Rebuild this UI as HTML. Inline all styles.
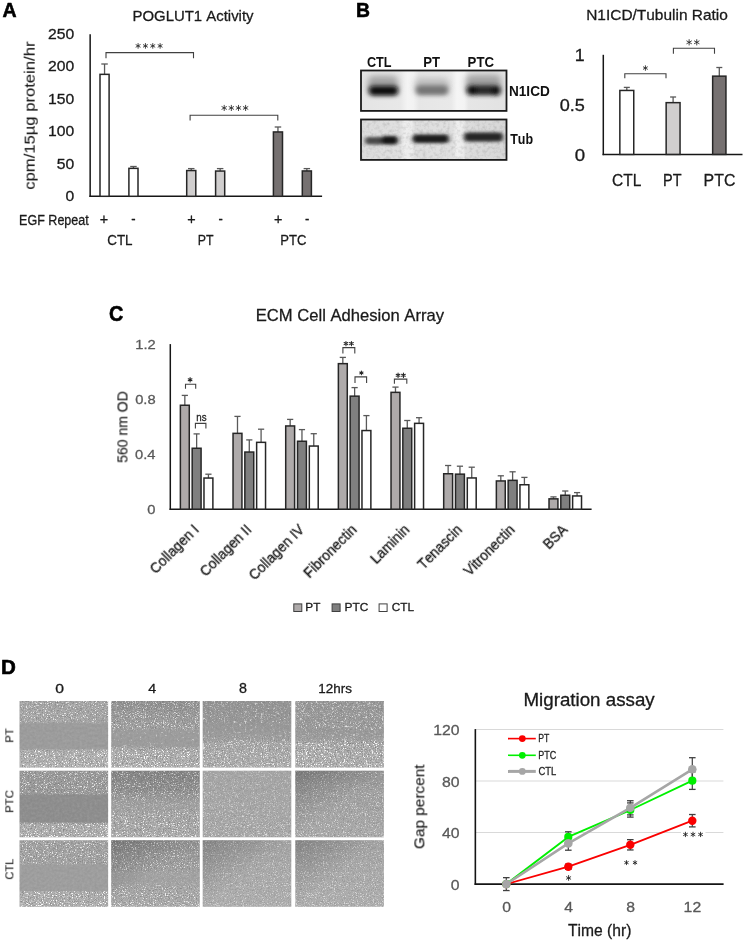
<!DOCTYPE html>
<html><head><meta charset="utf-8"><style>
html,body{margin:0;padding:0;background:#fff;}
svg{display:block;}
text{filter:url(#gs);}
text{font-family:"Liberation Sans", sans-serif;font-kerning:none;}
</style></head><body>
<svg width="744" height="941" viewBox="0 0 744 941">
<defs><filter id="gs" x="-5%" y="-20%" width="110%" height="140%"><feOffset dx="0" dy="0"/></filter></defs>
<rect width="744" height="941" fill="#fff"/>
<text x="2.51" y="16.60" font-size="20.06" font-weight="bold" fill="#000" textLength="14.10" lengthAdjust="spacingAndGlyphs" stroke="#000" stroke-width="0.6" stroke-linejoin="round">A</text>
<text x="132.48" y="21.00" font-size="15.26" fill="#1a1a1a" textLength="121.05" lengthAdjust="spacingAndGlyphs" stroke="#1a1a1a" stroke-width="0.3" stroke-linejoin="round">POGLUT1 Activity</text>
<line x1="90.15" y1="34.30" x2="90.15" y2="197.05" stroke="#161616" stroke-width="1.5"/>
<line x1="89.40" y1="196.30" x2="322.10" y2="196.30" stroke="#161616" stroke-width="1.5"/>
<text x="65.48" y="201.41" font-size="14.27" fill="#1a1a1a" textLength="8.73" lengthAdjust="spacingAndGlyphs" stroke="#1a1a1a" stroke-width="0.3" stroke-linejoin="round">0</text>
<text x="56.74" y="168.88" font-size="14.27" fill="#1a1a1a" textLength="17.47" lengthAdjust="spacingAndGlyphs" stroke="#1a1a1a" stroke-width="0.3" stroke-linejoin="round">50</text>
<text x="48.01" y="136.35" font-size="14.27" fill="#1a1a1a" textLength="26.20" lengthAdjust="spacingAndGlyphs" stroke="#1a1a1a" stroke-width="0.3" stroke-linejoin="round">100</text>
<text x="48.01" y="103.82" font-size="14.27" fill="#1a1a1a" textLength="26.20" lengthAdjust="spacingAndGlyphs" stroke="#1a1a1a" stroke-width="0.3" stroke-linejoin="round">150</text>
<text x="48.01" y="71.29" font-size="14.27" fill="#1a1a1a" textLength="26.20" lengthAdjust="spacingAndGlyphs" stroke="#1a1a1a" stroke-width="0.3" stroke-linejoin="round">200</text>
<text x="48.01" y="38.76" font-size="14.27" fill="#1a1a1a" textLength="26.20" lengthAdjust="spacingAndGlyphs" stroke="#1a1a1a" stroke-width="0.3" stroke-linejoin="round">250</text>
<g transform="translate(23.66,188.94) rotate(-90)"><text x="-0.71" y="11.18" font-size="15.43" fill="#1a1a1a" textLength="148.16" lengthAdjust="spacingAndGlyphs" stroke="#1a1a1a" stroke-width="0.12" stroke-linejoin="round">cpm/15µg protein/hr</text></g>
<line x1="104.55" y1="75.60" x2="104.55" y2="64.00" stroke="#595959" stroke-width="1.3"/>
<line x1="101.30" y1="64.00" x2="107.80" y2="64.00" stroke="#595959" stroke-width="1.3"/>
<rect x="100.00" y="74.35" width="9.10" height="121.95" fill="#ffffff" stroke="#262626" stroke-width="1.5"/>
<line x1="133.45" y1="169.60" x2="133.45" y2="166.50" stroke="#595959" stroke-width="1.3"/>
<line x1="130.20" y1="166.50" x2="136.70" y2="166.50" stroke="#595959" stroke-width="1.3"/>
<rect x="128.90" y="168.35" width="9.10" height="27.95" fill="#ffffff" stroke="#262626" stroke-width="1.5"/>
<line x1="191.25" y1="171.80" x2="191.25" y2="168.60" stroke="#595959" stroke-width="1.3"/>
<line x1="188.00" y1="168.60" x2="194.50" y2="168.60" stroke="#595959" stroke-width="1.3"/>
<rect x="186.70" y="170.55" width="9.10" height="25.75" fill="#D0CECE" stroke="#262626" stroke-width="1.5"/>
<line x1="220.15" y1="172.30" x2="220.15" y2="168.60" stroke="#595959" stroke-width="1.3"/>
<line x1="216.90" y1="168.60" x2="223.40" y2="168.60" stroke="#595959" stroke-width="1.3"/>
<rect x="215.60" y="171.05" width="9.10" height="25.25" fill="#D0CECE" stroke="#262626" stroke-width="1.5"/>
<line x1="277.95" y1="133.20" x2="277.95" y2="127.00" stroke="#595959" stroke-width="1.3"/>
<line x1="274.70" y1="127.00" x2="281.20" y2="127.00" stroke="#595959" stroke-width="1.3"/>
<rect x="273.40" y="131.95" width="9.10" height="64.35" fill="#767171" stroke="#262626" stroke-width="1.5"/>
<line x1="306.85" y1="172.20" x2="306.85" y2="168.60" stroke="#595959" stroke-width="1.3"/>
<line x1="303.60" y1="168.60" x2="310.10" y2="168.60" stroke="#595959" stroke-width="1.3"/>
<rect x="302.30" y="170.95" width="9.10" height="25.35" fill="#767171" stroke="#262626" stroke-width="1.5"/>
<polyline points="106.00,58.20 106.00,52.60 193.50,52.60 193.50,58.20" fill="none" stroke="#404040" stroke-width="1.1"/>
<path d="M138.08,43.50V48.30M136.00,44.70L140.16,47.10M136.00,47.10L140.16,44.70M145.43,43.50V48.30M143.35,44.70L147.50,47.10M143.35,47.10L147.50,44.70M152.77,43.50V48.30M150.70,44.70L154.85,47.10M150.70,47.10L154.85,44.70M160.12,43.50V48.30M158.04,44.70L162.20,47.10M158.04,47.10L162.20,44.70" stroke="#262626" stroke-width="0.85" stroke-linecap="round" fill="none"/>
<polyline points="190.10,120.60 190.10,115.30 277.80,115.30 277.80,120.60" fill="none" stroke="#404040" stroke-width="1.1"/>
<path d="M224.19,105.30V110.60M221.90,106.62L226.49,109.27M221.90,109.27L226.49,106.62M231.33,105.30V110.60M229.04,106.62L233.63,109.27M229.04,109.27L233.63,106.62M238.47,105.30V110.60M236.17,106.62L240.76,109.27M236.17,109.27L240.76,106.62M245.61,105.30V110.60M243.31,106.62L247.90,109.27M243.31,109.27L247.90,106.62" stroke="#262626" stroke-width="0.85" stroke-linecap="round" fill="none"/>
<text x="19.07" y="225.00" font-size="14.39" fill="#1a1a1a" textLength="69.72" lengthAdjust="spacingAndGlyphs" stroke="#1a1a1a" stroke-width="0.3" stroke-linejoin="round">EGF Repeat</text>
<text x="99.80" y="223.79" font-size="14.40" fill="#1a1a1a" textLength="8.41" lengthAdjust="spacingAndGlyphs" stroke="#1a1a1a" stroke-width="0.3" stroke-linejoin="round">+</text>
<text x="187.30" y="223.79" font-size="14.40" fill="#1a1a1a" textLength="8.41" lengthAdjust="spacingAndGlyphs" stroke="#1a1a1a" stroke-width="0.3" stroke-linejoin="round">+</text>
<text x="274.10" y="223.79" font-size="14.40" fill="#1a1a1a" textLength="8.41" lengthAdjust="spacingAndGlyphs" stroke="#1a1a1a" stroke-width="0.3" stroke-linejoin="round">+</text>
<text x="131.24" y="224.12" font-size="14.40" fill="#1a1a1a" textLength="4.32" lengthAdjust="spacingAndGlyphs" stroke="#1a1a1a" stroke-width="0.3" stroke-linejoin="round">-</text>
<text x="218.54" y="224.12" font-size="14.40" fill="#1a1a1a" textLength="4.32" lengthAdjust="spacingAndGlyphs" stroke="#1a1a1a" stroke-width="0.3" stroke-linejoin="round">-</text>
<text x="305.04" y="224.12" font-size="14.40" fill="#1a1a1a" textLength="4.32" lengthAdjust="spacingAndGlyphs" stroke="#1a1a1a" stroke-width="0.3" stroke-linejoin="round">-</text>
<text x="107.22" y="244.70" font-size="15.41" fill="#1a1a1a" textLength="25.33" lengthAdjust="spacingAndGlyphs" stroke="#1a1a1a" stroke-width="0.3" stroke-linejoin="round">CTL</text>
<text x="197.79" y="244.50" font-size="15.41" fill="#1a1a1a" textLength="15.80" lengthAdjust="spacingAndGlyphs" stroke="#1a1a1a" stroke-width="0.3" stroke-linejoin="round">PT</text>
<text x="280.33" y="244.50" font-size="15.41" fill="#1a1a1a" textLength="26.17" lengthAdjust="spacingAndGlyphs" stroke="#1a1a1a" stroke-width="0.3" stroke-linejoin="round">PTC</text>
<text x="356.01" y="16.90" font-size="20.93" font-weight="bold" fill="#000" textLength="13.97" lengthAdjust="spacingAndGlyphs" stroke="#000" stroke-width="0.6" stroke-linejoin="round">B</text>
<text x="366.98" y="67.00" font-size="14.83" font-weight="bold" fill="#111" textLength="24.61" lengthAdjust="spacingAndGlyphs">CTL</text>
<text x="423.32" y="67.00" font-size="14.83" font-weight="bold" fill="#111" textLength="16.82" lengthAdjust="spacingAndGlyphs">PT</text>
<text x="467.62" y="67.00" font-size="14.83" font-weight="bold" fill="#111" textLength="26.45" lengthAdjust="spacingAndGlyphs">PTC</text>
<text x="508.99" y="96.20" font-size="14.53" font-weight="bold" fill="#111" textLength="40.78" lengthAdjust="spacingAndGlyphs">N1ICD</text>
<text x="510.26" y="143.50" font-size="14.07" font-weight="bold" fill="#111" textLength="22.85" lengthAdjust="spacingAndGlyphs">Tub</text>
<defs>
<filter id="bb1" x="-30%" y="-80%" width="160%" height="260%"><feGaussianBlur stdDeviation="2.6 1.9"/></filter>
<filter id="bb2" x="-30%" y="-80%" width="160%" height="260%"><feGaussianBlur stdDeviation="3.0 3.0"/></filter>
<filter id="bb3" x="-30%" y="-80%" width="160%" height="260%"><feGaussianBlur stdDeviation="2.0 1.7"/></filter>
<filter id="bn" x="0" y="0" width="1" height="1" color-interpolation-filters="sRGB"><feTurbulence type="fractalNoise" baseFrequency="0.3" numOctaves="2" seed="5"/><feColorMatrix type="matrix" values="0 0 0 0 0  0 0 0 0 0  0 0 0 0 0  -0.25 0 0 0 0.14"/><feGaussianBlur stdDeviation="0.5"/></filter>
<linearGradient id="lane1" x1="0" x2="1" y1="0" y2="0">
<stop offset="0" stop-color="#e4e4e4"/><stop offset="0.27" stop-color="#e8e8e8"/><stop offset="0.32" stop-color="#f4f4f4"/><stop offset="0.36" stop-color="#f2f2f2"/><stop offset="0.40" stop-color="#e6e6e6"/><stop offset="0.62" stop-color="#e9e9e9"/><stop offset="0.66" stop-color="#f5f5f5"/><stop offset="0.71" stop-color="#f3f3f3"/><stop offset="0.74" stop-color="#e6e6e6"/><stop offset="1" stop-color="#e2e2e2"/>
</linearGradient>
<linearGradient id="lane2" x1="0" x2="1" y1="0" y2="0">
<stop offset="0" stop-color="#dcdcdc"/><stop offset="0.27" stop-color="#e0e0e0"/><stop offset="0.30" stop-color="#eeeeee"/><stop offset="0.35" stop-color="#ececec"/><stop offset="0.37" stop-color="#dedede"/><stop offset="0.63" stop-color="#e0e0e0"/><stop offset="0.66" stop-color="#efefef"/><stop offset="0.70" stop-color="#ececec"/><stop offset="0.72" stop-color="#dcdcdc"/><stop offset="1" stop-color="#d8d8d8"/>
</linearGradient>
<clipPath id="cb1"><rect x="361" y="70.5" width="145.5" height="40.4"/></clipPath>
<clipPath id="cb2"><rect x="361" y="119.5" width="145.5" height="40.4"/></clipPath>
</defs>
<rect x="361" y="70.5" width="145.5" height="40.4" fill="url(#lane1)"/>
<rect x="361" y="119.5" width="145.5" height="40.4" fill="url(#lane2)"/>
<rect x="361" y="119.5" width="145.5" height="40.4" filter="url(#bn)"/>
<g clip-path="url(#cb1)">
<g filter="url(#bb2)" opacity="0.75">
<rect x="368" y="76" width="30" height="17" rx="5" fill="#8a8a8a"/>
<rect x="415" y="78" width="34" height="15" rx="5" fill="#b0b0b0"/>
<rect x="466" y="75" width="35" height="18" rx="5" fill="#8a8a8a"/>
</g>
<g filter="url(#bb1)">
<rect x="369" y="86" width="29" height="9.5" rx="4" fill="#080808"/>
<rect x="416" y="85.5" width="32" height="9.5" rx="4" fill="#747474"/>
<rect x="467" y="85.5" width="33" height="9.5" rx="4" fill="#262626"/>
<ellipse cx="472" cy="90.5" rx="5" ry="4.5" fill="#080808"/>
<ellipse cx="496" cy="91" rx="4.5" ry="4.5" fill="#0e0e0e"/>
</g></g>
<g clip-path="url(#cb2)"><g filter="url(#bb3)">
<rect x="365" y="137" width="18" height="7.5" rx="3.5" fill="#4a4a4a"/>
<rect x="381" y="136" width="17" height="8.5" rx="4" fill="#141414"/>
<rect x="412.5" y="134.5" width="36.5" height="8.5" rx="4" fill="#1e1e1e"/>
<rect x="464" y="132.5" width="39" height="9" rx="4" fill="#262626"/>
</g></g>
<rect x="361" y="70.5" width="145.5" height="40.4" fill="none" stroke="#1a1a1a" stroke-width="1.8"/>
<rect x="361" y="119.5" width="145.5" height="40.4" fill="none" stroke="#1a1a1a" stroke-width="1.8"/>
<text x="586.23" y="19.60" font-size="15.55" fill="#1a1a1a" textLength="141.62" lengthAdjust="spacingAndGlyphs" stroke="#1a1a1a" stroke-width="0.3" stroke-linejoin="round">N1ICD/Tubulin Ratio</text>
<line x1="603.30" y1="54.80" x2="603.30" y2="155.15" stroke="#161616" stroke-width="1.5"/>
<line x1="602.55" y1="154.40" x2="742.50" y2="154.40" stroke="#161616" stroke-width="1.5"/>
<text x="574.84" y="60.90" font-size="16.86" fill="#1a1a1a" textLength="9.93" lengthAdjust="spacingAndGlyphs" stroke="#1a1a1a" stroke-width="0.3" stroke-linejoin="round">1</text>
<text x="559.69" y="110.64" font-size="16.38" fill="#1a1a1a" textLength="25.17" lengthAdjust="spacingAndGlyphs" stroke="#1a1a1a" stroke-width="0.3" stroke-linejoin="round">0.5</text>
<text x="574.67" y="160.64" font-size="16.10" fill="#1a1a1a" textLength="10.35" lengthAdjust="spacingAndGlyphs" stroke="#1a1a1a" stroke-width="0.3" stroke-linejoin="round">0</text>
<line x1="626.80" y1="91.70" x2="626.80" y2="87.40" stroke="#595959" stroke-width="1.3"/>
<line x1="623.80" y1="87.40" x2="629.80" y2="87.40" stroke="#595959" stroke-width="1.3"/>
<rect x="619.85" y="90.45" width="13.90" height="63.95" fill="#ffffff" stroke="#262626" stroke-width="1.5"/>
<line x1="673.10" y1="103.90" x2="673.10" y2="97.00" stroke="#595959" stroke-width="1.3"/>
<line x1="670.10" y1="97.00" x2="676.10" y2="97.00" stroke="#595959" stroke-width="1.3"/>
<rect x="666.15" y="102.65" width="13.90" height="51.75" fill="#D0CECE" stroke="#262626" stroke-width="1.5"/>
<line x1="719.30" y1="77.40" x2="719.30" y2="67.50" stroke="#595959" stroke-width="1.3"/>
<line x1="716.30" y1="67.50" x2="722.30" y2="67.50" stroke="#595959" stroke-width="1.3"/>
<rect x="712.65" y="76.15" width="13.30" height="78.25" fill="#767171" stroke="#262626" stroke-width="1.5"/>
<polyline points="624.80,78.20 624.80,73.70 666.00,73.70 666.00,78.20" fill="none" stroke="#404040" stroke-width="1.1"/>
<path d="M645.40,65.70V70.40M643.36,66.88L647.44,69.22M643.36,69.22L647.44,66.88" stroke="#262626" stroke-width="0.85" stroke-linecap="round" fill="none"/>
<polyline points="673.40,53.80 673.40,48.30 714.50,48.30 714.50,53.80" fill="none" stroke="#404040" stroke-width="1.1"/>
<path d="M689.14,39.60V45.00M686.80,40.95L691.48,43.65M686.80,43.65L691.48,40.95M696.76,39.60V45.00M694.42,40.95L699.10,43.65M694.42,43.65L699.10,40.95" stroke="#262626" stroke-width="0.85" stroke-linecap="round" fill="none"/>
<text x="612.11" y="186.20" font-size="17.01" fill="#1a1a1a" textLength="29.30" lengthAdjust="spacingAndGlyphs" stroke="#1a1a1a" stroke-width="0.3" stroke-linejoin="round">CTL</text>
<text x="663.01" y="186.20" font-size="17.01" fill="#1a1a1a" textLength="18.52" lengthAdjust="spacingAndGlyphs" stroke="#1a1a1a" stroke-width="0.3" stroke-linejoin="round">PT</text>
<text x="703.60" y="186.20" font-size="17.01" fill="#1a1a1a" textLength="31.81" lengthAdjust="spacingAndGlyphs" stroke="#1a1a1a" stroke-width="0.3" stroke-linejoin="round">PTC</text>
<text x="109.08" y="321.49" font-size="21.19" font-weight="bold" fill="#000" textLength="14.36" lengthAdjust="spacingAndGlyphs" stroke="#000" stroke-width="0.6" stroke-linejoin="round">C</text>
<text x="255.74" y="320.70" font-size="17.15" fill="#1a1a1a" textLength="188.29" lengthAdjust="spacingAndGlyphs" stroke="#1a1a1a" stroke-width="0.3" stroke-linejoin="round">ECM Cell Adhesion Array</text>
<line x1="170.30" y1="344.10" x2="170.30" y2="509.95" stroke="#161616" stroke-width="1.5"/>
<line x1="169.55" y1="509.20" x2="591.60" y2="509.20" stroke="#161616" stroke-width="1.5"/>
<text x="147.39" y="514.08" font-size="13.61" fill="#595959" textLength="8.19" lengthAdjust="spacingAndGlyphs" stroke="#595959" stroke-width="0.3" stroke-linejoin="round">0</text>
<text x="134.97" y="459.18" font-size="13.61" fill="#595959" textLength="20.46" lengthAdjust="spacingAndGlyphs" stroke="#595959" stroke-width="0.3" stroke-linejoin="round">0.4</text>
<text x="135.18" y="404.28" font-size="13.61" fill="#595959" textLength="20.46" lengthAdjust="spacingAndGlyphs" stroke="#595959" stroke-width="0.3" stroke-linejoin="round">0.8</text>
<text x="135.28" y="349.45" font-size="13.61" fill="#595959" textLength="20.46" lengthAdjust="spacingAndGlyphs" stroke="#595959" stroke-width="0.3" stroke-linejoin="round">1.2</text>
<g transform="translate(117.46,462.34) rotate(-90)"><text x="-0.56" y="10.04" font-size="14.38" fill="#1a1a1a" textLength="71.71" lengthAdjust="spacingAndGlyphs" stroke="#1a1a1a" stroke-width="0.12" stroke-linejoin="round">560 nm OD</text></g>
<line x1="184.83" y1="406.50" x2="184.83" y2="395.40" stroke="#595959" stroke-width="1.3"/>
<line x1="181.73" y1="395.40" x2="187.93" y2="395.40" stroke="#595959" stroke-width="1.3"/>
<rect x="180.38" y="405.25" width="8.90" height="103.95" fill="#AEAAAA" stroke="#262626" stroke-width="1.5"/>
<line x1="196.63" y1="449.50" x2="196.63" y2="433.90" stroke="#595959" stroke-width="1.3"/>
<line x1="193.53" y1="433.90" x2="199.73" y2="433.90" stroke="#595959" stroke-width="1.3"/>
<rect x="192.18" y="448.25" width="8.90" height="60.95" fill="#7F7F7F" stroke="#262626" stroke-width="1.5"/>
<line x1="208.43" y1="479.30" x2="208.43" y2="474.20" stroke="#595959" stroke-width="1.3"/>
<line x1="205.33" y1="474.20" x2="211.53" y2="474.20" stroke="#595959" stroke-width="1.3"/>
<rect x="203.98" y="478.05" width="8.90" height="31.15" fill="#ffffff" stroke="#262626" stroke-width="1.5"/>
<line x1="237.49" y1="434.60" x2="237.49" y2="416.40" stroke="#595959" stroke-width="1.3"/>
<line x1="234.39" y1="416.40" x2="240.59" y2="416.40" stroke="#595959" stroke-width="1.3"/>
<rect x="233.04" y="433.35" width="8.90" height="75.85" fill="#AEAAAA" stroke="#262626" stroke-width="1.5"/>
<line x1="249.29" y1="453.30" x2="249.29" y2="439.90" stroke="#595959" stroke-width="1.3"/>
<line x1="246.19" y1="439.90" x2="252.39" y2="439.90" stroke="#595959" stroke-width="1.3"/>
<rect x="244.84" y="452.05" width="8.90" height="57.15" fill="#7F7F7F" stroke="#262626" stroke-width="1.5"/>
<line x1="261.09" y1="443.60" x2="261.09" y2="429.20" stroke="#595959" stroke-width="1.3"/>
<line x1="257.99" y1="429.20" x2="264.19" y2="429.20" stroke="#595959" stroke-width="1.3"/>
<rect x="256.64" y="442.35" width="8.90" height="66.85" fill="#ffffff" stroke="#262626" stroke-width="1.5"/>
<line x1="290.16" y1="427.20" x2="290.16" y2="419.40" stroke="#595959" stroke-width="1.3"/>
<line x1="287.06" y1="419.40" x2="293.26" y2="419.40" stroke="#595959" stroke-width="1.3"/>
<rect x="285.71" y="425.95" width="8.90" height="83.25" fill="#AEAAAA" stroke="#262626" stroke-width="1.5"/>
<line x1="301.96" y1="442.50" x2="301.96" y2="429.60" stroke="#595959" stroke-width="1.3"/>
<line x1="298.86" y1="429.60" x2="305.06" y2="429.60" stroke="#595959" stroke-width="1.3"/>
<rect x="297.51" y="441.25" width="8.90" height="67.95" fill="#7F7F7F" stroke="#262626" stroke-width="1.5"/>
<line x1="313.76" y1="447.30" x2="313.76" y2="433.70" stroke="#595959" stroke-width="1.3"/>
<line x1="310.66" y1="433.70" x2="316.86" y2="433.70" stroke="#595959" stroke-width="1.3"/>
<rect x="309.31" y="446.05" width="8.90" height="63.15" fill="#ffffff" stroke="#262626" stroke-width="1.5"/>
<line x1="342.82" y1="364.90" x2="342.82" y2="357.40" stroke="#595959" stroke-width="1.3"/>
<line x1="339.72" y1="357.40" x2="345.92" y2="357.40" stroke="#595959" stroke-width="1.3"/>
<rect x="338.37" y="363.65" width="8.90" height="145.55" fill="#AEAAAA" stroke="#262626" stroke-width="1.5"/>
<line x1="354.62" y1="397.40" x2="354.62" y2="387.60" stroke="#595959" stroke-width="1.3"/>
<line x1="351.52" y1="387.60" x2="357.72" y2="387.60" stroke="#595959" stroke-width="1.3"/>
<rect x="350.17" y="396.15" width="8.90" height="113.05" fill="#7F7F7F" stroke="#262626" stroke-width="1.5"/>
<line x1="366.42" y1="431.80" x2="366.42" y2="415.60" stroke="#595959" stroke-width="1.3"/>
<line x1="363.32" y1="415.60" x2="369.52" y2="415.60" stroke="#595959" stroke-width="1.3"/>
<rect x="361.97" y="430.55" width="8.90" height="78.65" fill="#ffffff" stroke="#262626" stroke-width="1.5"/>
<line x1="395.48" y1="393.60" x2="395.48" y2="387.10" stroke="#595959" stroke-width="1.3"/>
<line x1="392.38" y1="387.10" x2="398.58" y2="387.10" stroke="#595959" stroke-width="1.3"/>
<rect x="391.03" y="392.35" width="8.90" height="116.85" fill="#AEAAAA" stroke="#262626" stroke-width="1.5"/>
<line x1="407.28" y1="429.50" x2="407.28" y2="420.50" stroke="#595959" stroke-width="1.3"/>
<line x1="404.18" y1="420.50" x2="410.38" y2="420.50" stroke="#595959" stroke-width="1.3"/>
<rect x="402.83" y="428.25" width="8.90" height="80.95" fill="#7F7F7F" stroke="#262626" stroke-width="1.5"/>
<line x1="419.08" y1="424.60" x2="419.08" y2="417.70" stroke="#595959" stroke-width="1.3"/>
<line x1="415.98" y1="417.70" x2="422.18" y2="417.70" stroke="#595959" stroke-width="1.3"/>
<rect x="414.63" y="423.35" width="8.90" height="85.85" fill="#ffffff" stroke="#262626" stroke-width="1.5"/>
<line x1="448.14" y1="475.00" x2="448.14" y2="465.50" stroke="#595959" stroke-width="1.3"/>
<line x1="445.04" y1="465.50" x2="451.24" y2="465.50" stroke="#595959" stroke-width="1.3"/>
<rect x="443.69" y="473.75" width="8.90" height="35.45" fill="#AEAAAA" stroke="#262626" stroke-width="1.5"/>
<line x1="459.94" y1="475.40" x2="459.94" y2="466.20" stroke="#595959" stroke-width="1.3"/>
<line x1="456.84" y1="466.20" x2="463.04" y2="466.20" stroke="#595959" stroke-width="1.3"/>
<rect x="455.49" y="474.15" width="8.90" height="35.05" fill="#7F7F7F" stroke="#262626" stroke-width="1.5"/>
<line x1="471.74" y1="479.20" x2="471.74" y2="467.20" stroke="#595959" stroke-width="1.3"/>
<line x1="468.64" y1="467.20" x2="474.84" y2="467.20" stroke="#595959" stroke-width="1.3"/>
<rect x="467.29" y="477.95" width="8.90" height="31.25" fill="#ffffff" stroke="#262626" stroke-width="1.5"/>
<line x1="500.81" y1="482.20" x2="500.81" y2="475.80" stroke="#595959" stroke-width="1.3"/>
<line x1="497.71" y1="475.80" x2="503.91" y2="475.80" stroke="#595959" stroke-width="1.3"/>
<rect x="496.36" y="480.95" width="8.90" height="28.25" fill="#AEAAAA" stroke="#262626" stroke-width="1.5"/>
<line x1="512.61" y1="481.60" x2="512.61" y2="471.80" stroke="#595959" stroke-width="1.3"/>
<line x1="509.51" y1="471.80" x2="515.71" y2="471.80" stroke="#595959" stroke-width="1.3"/>
<rect x="508.16" y="480.35" width="8.90" height="28.85" fill="#7F7F7F" stroke="#262626" stroke-width="1.5"/>
<line x1="524.41" y1="486.00" x2="524.41" y2="477.40" stroke="#595959" stroke-width="1.3"/>
<line x1="521.31" y1="477.40" x2="527.51" y2="477.40" stroke="#595959" stroke-width="1.3"/>
<rect x="519.96" y="484.75" width="8.90" height="24.45" fill="#ffffff" stroke="#262626" stroke-width="1.5"/>
<line x1="553.47" y1="500.10" x2="553.47" y2="496.90" stroke="#595959" stroke-width="1.3"/>
<line x1="550.37" y1="496.90" x2="556.57" y2="496.90" stroke="#595959" stroke-width="1.3"/>
<rect x="549.02" y="498.85" width="8.90" height="10.35" fill="#AEAAAA" stroke="#262626" stroke-width="1.5"/>
<line x1="565.27" y1="496.50" x2="565.27" y2="491.00" stroke="#595959" stroke-width="1.3"/>
<line x1="562.17" y1="491.00" x2="568.37" y2="491.00" stroke="#595959" stroke-width="1.3"/>
<rect x="560.82" y="495.25" width="8.90" height="13.95" fill="#7F7F7F" stroke="#262626" stroke-width="1.5"/>
<line x1="577.07" y1="497.20" x2="577.07" y2="492.60" stroke="#595959" stroke-width="1.3"/>
<line x1="573.97" y1="492.60" x2="580.17" y2="492.60" stroke="#595959" stroke-width="1.3"/>
<rect x="572.62" y="495.95" width="8.90" height="13.25" fill="#ffffff" stroke="#262626" stroke-width="1.5"/>
<polyline points="185.50,388.80 185.50,384.20 195.70,384.20 195.70,388.80" fill="none" stroke="#404040" stroke-width="1.1"/>
<path d="M190.10,377.60V381.90M188.24,378.68L191.96,380.82M188.24,380.82L191.96,378.68" stroke="#262626" stroke-width="1.05" stroke-linecap="round" fill="none"/>
<polyline points="195.40,428.50 195.40,423.40 205.90,423.40 205.90,428.50" fill="none" stroke="#404040" stroke-width="1.1"/>
<text x="196.25" y="420.59" font-size="10.95" fill="#262626" textLength="10.30" lengthAdjust="spacingAndGlyphs" stroke="#262626" stroke-width="0.3" stroke-linejoin="round">ns</text>
<polyline points="342.90,353.40 342.90,347.60 354.80,347.60 354.80,353.40" fill="none" stroke="#404040" stroke-width="1.1"/>
<path d="M345.96,341.40V345.70M344.10,342.47L347.82,344.62M344.10,344.62L347.82,342.47M351.44,341.40V345.70M349.58,342.47L353.30,344.62M349.58,344.62L353.30,342.47" stroke="#262626" stroke-width="1.05" stroke-linecap="round" fill="none"/>
<polyline points="355.00,382.90 355.00,376.90 366.60,376.90 366.60,382.90" fill="none" stroke="#404040" stroke-width="1.1"/>
<path d="M361.40,371.00V374.80M359.75,371.95L363.05,373.85M359.75,373.85L363.05,371.95" stroke="#262626" stroke-width="1.05" stroke-linecap="round" fill="none"/>
<polyline points="394.40,383.70 394.40,379.10 406.80,379.10 406.80,383.70" fill="none" stroke="#404040" stroke-width="1.1"/>
<path d="M398.06,373.10V377.40M396.20,374.18L399.92,376.32M396.20,376.32L399.92,374.18M403.44,373.10V377.40M401.58,374.18L405.30,376.32M401.58,376.32L405.30,374.18" stroke="#262626" stroke-width="1.05" stroke-linecap="round" fill="none"/>
<g transform="translate(199.73,530.50) rotate(-45)"><text x="-62.14" y="0.00" font-size="13.80" fill="#1a1a1a" textLength="62.14" lengthAdjust="spacingAndGlyphs" stroke="#1a1a1a" stroke-width="0.3" stroke-linejoin="round">Collagen I</text></g>
<g transform="translate(252.39,530.50) rotate(-45)"><text x="-65.97" y="0.00" font-size="13.80" fill="#1a1a1a" textLength="65.97" lengthAdjust="spacingAndGlyphs" stroke="#1a1a1a" stroke-width="0.3" stroke-linejoin="round">Collagen II</text></g>
<g transform="translate(305.06,530.50) rotate(-45)"><text x="-71.34" y="0.00" font-size="13.80" fill="#1a1a1a" textLength="71.34" lengthAdjust="spacingAndGlyphs" stroke="#1a1a1a" stroke-width="0.3" stroke-linejoin="round">Collagen IV</text></g>
<g transform="translate(357.72,530.50) rotate(-45)"><text x="-68.27" y="0.00" font-size="13.80" fill="#1a1a1a" textLength="68.27" lengthAdjust="spacingAndGlyphs" stroke="#1a1a1a" stroke-width="0.3" stroke-linejoin="round">Fibronectin</text></g>
<g transform="translate(410.38,530.50) rotate(-45)"><text x="-48.33" y="0.00" font-size="13.80" fill="#1a1a1a" textLength="48.33" lengthAdjust="spacingAndGlyphs" stroke="#1a1a1a" stroke-width="0.3" stroke-linejoin="round">Laminin</text></g>
<g transform="translate(463.04,530.50) rotate(-45)"><text x="-56.00" y="0.00" font-size="13.80" fill="#1a1a1a" textLength="56.00" lengthAdjust="spacingAndGlyphs" stroke="#1a1a1a" stroke-width="0.3" stroke-linejoin="round">Tenascin</text></g>
<g transform="translate(515.71,530.50) rotate(-45)"><text x="-65.20" y="0.00" font-size="13.80" fill="#1a1a1a" textLength="65.20" lengthAdjust="spacingAndGlyphs" stroke="#1a1a1a" stroke-width="0.3" stroke-linejoin="round">Vitronectin</text></g>
<g transform="translate(568.37,530.50) rotate(-45)"><text x="-27.61" y="0.00" font-size="13.80" fill="#1a1a1a" textLength="27.61" lengthAdjust="spacingAndGlyphs" stroke="#1a1a1a" stroke-width="0.3" stroke-linejoin="round">BSA</text></g>
<rect x="293.80" y="603.9" width="8.0" height="7.6" fill="#AEAAAA" stroke="#404040" stroke-width="1"/>
<text x="305.33" y="611.30" font-size="11.77" fill="#1a1a1a" textLength="15.04" lengthAdjust="spacingAndGlyphs" stroke="#1a1a1a" stroke-width="0.3" stroke-linejoin="round">PT</text>
<rect x="332.10" y="603.9" width="8.0" height="7.6" fill="#7F7F7F" stroke="#404040" stroke-width="1"/>
<text x="344.52" y="611.30" font-size="11.77" fill="#1a1a1a" textLength="23.83" lengthAdjust="spacingAndGlyphs" stroke="#1a1a1a" stroke-width="0.3" stroke-linejoin="round">PTC</text>
<rect x="379.10" y="603.9" width="8.0" height="7.6" fill="#ffffff" stroke="#404040" stroke-width="1"/>
<text x="391.70" y="611.30" font-size="11.77" fill="#1a1a1a" textLength="22.29" lengthAdjust="spacingAndGlyphs" stroke="#1a1a1a" stroke-width="0.3" stroke-linejoin="round">CTL</text>
<text x="0.93" y="673.80" font-size="20.79" font-weight="bold" fill="#000" textLength="14.84" lengthAdjust="spacingAndGlyphs" stroke="#000" stroke-width="0.6" stroke-linejoin="round">D</text>
<text x="55.29" y="692.87" font-size="13.28" fill="#1a1a1a" textLength="8.73" lengthAdjust="spacingAndGlyphs" stroke="#1a1a1a" stroke-width="0.3" stroke-linejoin="round">0</text>
<text x="148.37" y="693.00" font-size="13.66" fill="#1a1a1a" textLength="7.95" lengthAdjust="spacingAndGlyphs" stroke="#1a1a1a" stroke-width="0.3" stroke-linejoin="round">4</text>
<text x="239.08" y="692.96" font-size="13.84" fill="#1a1a1a" textLength="7.94" lengthAdjust="spacingAndGlyphs" stroke="#1a1a1a" stroke-width="0.3" stroke-linejoin="round">8</text>
<text x="318.28" y="693.00" font-size="13.66" fill="#1a1a1a" textLength="33.61" lengthAdjust="spacingAndGlyphs" stroke="#1a1a1a" stroke-width="0.3" stroke-linejoin="round">12hrs</text>
<g transform="translate(5.36,741.64) rotate(-90)"><text x="-0.92" y="7.88" font-size="11.45" fill="#1a1a1a" textLength="14.36" lengthAdjust="spacingAndGlyphs" stroke="#1a1a1a" stroke-width="0.12" stroke-linejoin="round">PT</text></g>
<g transform="translate(5.36,811.74) rotate(-90)"><text x="-0.92" y="7.77" font-size="11.13" fill="#1a1a1a" textLength="22.53" lengthAdjust="spacingAndGlyphs" stroke="#1a1a1a" stroke-width="0.12" stroke-linejoin="round">PTC</text></g>
<g transform="translate(5.36,879.14) rotate(-90)"><text x="-0.56" y="7.77" font-size="11.13" fill="#1a1a1a" textLength="20.91" lengthAdjust="spacingAndGlyphs" stroke="#1a1a1a" stroke-width="0.12" stroke-linejoin="round">CTL</text></g>
<defs>
<filter id="tW" x="0" y="0" width="1" height="1" color-interpolation-filters="sRGB"><feTurbulence type="fractalNoise" baseFrequency="0.85" numOctaves="2" seed="4"/><feColorMatrix type="matrix" values="0 0 0 0 1  0 0 0 0 1  0 0 0 0 1  0.9 0 0 0 -0.45"/></filter>
<filter id="tB" x="0" y="0" width="1" height="1" color-interpolation-filters="sRGB"><feTurbulence type="fractalNoise" baseFrequency="0.85" numOctaves="2" seed="4"/><feColorMatrix type="matrix" values="0 0 0 0 0  0 0 0 0 0  0 0 0 0 0  -0.7 0 0 0 0.35"/></filter>
<filter id="gW" x="0" y="0" width="1" height="1" color-interpolation-filters="sRGB"><feTurbulence type="fractalNoise" baseFrequency="0.4" numOctaves="2" seed="11"/><feColorMatrix type="matrix" values="0 0 0 0 1  0 0 0 0 1  0 0 0 0 1  0.2 0 0 0 -0.1"/></filter>
<filter id="gB" x="0" y="0" width="1" height="1" color-interpolation-filters="sRGB"><feTurbulence type="fractalNoise" baseFrequency="0.4" numOctaves="2" seed="11"/><feColorMatrix type="matrix" values="0 0 0 0 0  0 0 0 0 0  0 0 0 0 0  -0.12 0 0 0 0.06"/></filter>
<filter id="sp2" x="0" y="0" width="1" height="1" color-interpolation-filters="sRGB"><feTurbulence type="fractalNoise" baseFrequency="0.38" numOctaves="2" seed="31"/><feColorMatrix type="matrix" values="0 0 0 0 1  0 0 0 0 1  0 0 0 0 1  8 0 0 0 -5.2"/></filter>
<filter id="sp" x="0" y="0" width="1" height="1" color-interpolation-filters="sRGB"><feTurbulence type="fractalNoise" baseFrequency="0.9" numOctaves="2" seed="23"/><feColorMatrix type="matrix" values="0 0 0 0 1  0 0 0 0 1  0 0 0 0 1  8 0 0 0 -4.9"/></filter>
<linearGradient id="vig" x1="0" y1="0" x2="1" y2="1"><stop offset="0" stop-color="#000" stop-opacity="0.18"/><stop offset="0.5" stop-color="#000" stop-opacity="0"/></linearGradient>
<linearGradient id="g00" x1="0" y1="0" x2="0" y2="1"><stop offset="0" stop-color="#fff" stop-opacity="0.75"/><stop offset="0.3" stop-color="#fff" stop-opacity="0.8"/><stop offset="0.345" stop-color="#fff" stop-opacity="0"/><stop offset="0.71" stop-color="#fff" stop-opacity="0"/><stop offset="0.745" stop-color="#fff" stop-opacity="1"/><stop offset="1" stop-color="#fff" stop-opacity="1"/></linearGradient>
<linearGradient id="t00" x1="0" y1="0" x2="0" y2="1"><stop offset="0" stop-color="#a4a4a4"/><stop offset="0.31" stop-color="#a6a6a6"/><stop offset="0.345" stop-color="#9c9c9c"/><stop offset="0.71" stop-color="#9c9c9c"/><stop offset="0.745" stop-color="#aeaeae"/><stop offset="1" stop-color="#b0b0b0"/></linearGradient>
<mask id="m00" maskUnits="userSpaceOnUse" x="19.5" y="701.0" width="88.6" height="66.6"><rect x="19.5" y="701.0" width="88.6" height="66.6" fill="url(#g00)"/></mask>
<linearGradient id="g01" x1="0" y1="0" x2="0" y2="1"><stop offset="0" stop-color="#fff" stop-opacity="0.6"/><stop offset="0.4" stop-color="#fff" stop-opacity="0.75"/><stop offset="0.46" stop-color="#fff" stop-opacity="0.05"/><stop offset="0.67" stop-color="#fff" stop-opacity="0.05"/><stop offset="0.71" stop-color="#fff" stop-opacity="1"/><stop offset="1" stop-color="#fff" stop-opacity="1"/></linearGradient>
<linearGradient id="t01" x1="0" y1="0" x2="0" y2="1"><stop offset="0" stop-color="#8e8e8e"/><stop offset="0.2" stop-color="#989898"/><stop offset="0.42" stop-color="#9e9e9e"/><stop offset="0.45" stop-color="#9c9c9c"/><stop offset="0.68" stop-color="#9c9c9c"/><stop offset="0.72" stop-color="#aaaaaa"/><stop offset="1" stop-color="#aeaeae"/></linearGradient>
<mask id="m01" maskUnits="userSpaceOnUse" x="111.2" y="701.0" width="88.6" height="66.6"><rect x="111.2" y="701.0" width="88.6" height="66.6" fill="url(#g01)"/></mask>
<linearGradient id="s01" x1="0" y1="0" x2="0" y2="1"><stop offset="0" stop-color="#fff" stop-opacity="0.3"/><stop offset="0.45" stop-color="#fff" stop-opacity="0.3"/><stop offset="0.55" stop-color="#fff" stop-opacity="0.45"/><stop offset="0.7" stop-color="#fff" stop-opacity="0.3"/><stop offset="1" stop-color="#fff" stop-opacity="0.2"/></linearGradient>
<mask id="n01" maskUnits="userSpaceOnUse" x="111.2" y="701.0" width="88.6" height="66.6"><rect x="111.2" y="701.0" width="88.6" height="66.6" fill="url(#s01)"/></mask>
<linearGradient id="g02" x1="0" y1="0" x2="0" y2="1"><stop offset="0" stop-color="#fff" stop-opacity="0.3"/><stop offset="0.28" stop-color="#fff" stop-opacity="0.35"/><stop offset="0.36" stop-color="#fff" stop-opacity="0.1"/><stop offset="0.5" stop-color="#fff" stop-opacity="0.15"/><stop offset="0.6" stop-color="#fff" stop-opacity="0.7"/><stop offset="1" stop-color="#fff" stop-opacity="0.8"/></linearGradient>
<linearGradient id="t02" x1="0" y1="0" x2="0" y2="1"><stop offset="0" stop-color="#929292"/><stop offset="0.3" stop-color="#969696"/><stop offset="0.4" stop-color="#989898"/><stop offset="0.55" stop-color="#9c9c9c"/><stop offset="0.65" stop-color="#a6a6a6"/><stop offset="1" stop-color="#acacac"/></linearGradient>
<mask id="m02" maskUnits="userSpaceOnUse" x="202.7" y="701.0" width="88.6" height="66.6"><rect x="202.7" y="701.0" width="88.6" height="66.6" fill="url(#g02)"/></mask>
<linearGradient id="s02" x1="0" y1="0" x2="0" y2="1"><stop offset="0" stop-color="#fff" stop-opacity="0.55"/><stop offset="0.3" stop-color="#fff" stop-opacity="0.6"/><stop offset="0.4" stop-color="#fff" stop-opacity="0.35"/><stop offset="0.55" stop-color="#fff" stop-opacity="0.4"/><stop offset="0.65" stop-color="#fff" stop-opacity="0.6"/><stop offset="1" stop-color="#fff" stop-opacity="0.6"/></linearGradient>
<mask id="n02" maskUnits="userSpaceOnUse" x="202.7" y="701.0" width="88.6" height="66.6"><rect x="202.7" y="701.0" width="88.6" height="66.6" fill="url(#s02)"/></mask>
<linearGradient id="g03" x1="0" y1="0" x2="0" y2="1"><stop offset="0" stop-color="#fff" stop-opacity="0.45"/><stop offset="0.38" stop-color="#fff" stop-opacity="0.55"/><stop offset="0.45" stop-color="#fff" stop-opacity="0.25"/><stop offset="0.55" stop-color="#fff" stop-opacity="0.3"/><stop offset="0.62" stop-color="#fff" stop-opacity="0.95"/><stop offset="1" stop-color="#fff" stop-opacity="1"/></linearGradient>
<linearGradient id="t03" x1="0" y1="0" x2="0" y2="1"><stop offset="0" stop-color="#969696"/><stop offset="0.4" stop-color="#9a9a9a"/><stop offset="0.48" stop-color="#989898"/><stop offset="0.58" stop-color="#9e9e9e"/><stop offset="0.66" stop-color="#a8a8a8"/><stop offset="1" stop-color="#aeaeae"/></linearGradient>
<mask id="m03" maskUnits="userSpaceOnUse" x="295.3" y="701.0" width="88.6" height="66.6"><rect x="295.3" y="701.0" width="88.6" height="66.6" fill="url(#g03)"/></mask>
<linearGradient id="s03" x1="0" y1="0" x2="0" y2="1"><stop offset="0" stop-color="#fff" stop-opacity="0.6"/><stop offset="0.4" stop-color="#fff" stop-opacity="0.7"/><stop offset="0.48" stop-color="#fff" stop-opacity="0.4"/><stop offset="0.58" stop-color="#fff" stop-opacity="0.5"/><stop offset="0.7" stop-color="#fff" stop-opacity="0.6"/><stop offset="1" stop-color="#fff" stop-opacity="0.6"/></linearGradient>
<mask id="n03" maskUnits="userSpaceOnUse" x="295.3" y="701.0" width="88.6" height="66.6"><rect x="295.3" y="701.0" width="88.6" height="66.6" fill="url(#s03)"/></mask>
<linearGradient id="g10" x1="0" y1="0" x2="0" y2="1"><stop offset="0" stop-color="#fff" stop-opacity="0.75"/><stop offset="0.33" stop-color="#fff" stop-opacity="0.8"/><stop offset="0.37" stop-color="#fff" stop-opacity="0"/><stop offset="0.77" stop-color="#fff" stop-opacity="0"/><stop offset="0.8" stop-color="#fff" stop-opacity="1"/><stop offset="1" stop-color="#fff" stop-opacity="1"/></linearGradient>
<linearGradient id="t10" x1="0" y1="0" x2="0" y2="1"><stop offset="0" stop-color="#989898"/><stop offset="0.33" stop-color="#9a9a9a"/><stop offset="0.37" stop-color="#8e8e8e"/><stop offset="0.77" stop-color="#8e8e8e"/><stop offset="0.8" stop-color="#aaaaaa"/><stop offset="1" stop-color="#aeaeae"/></linearGradient>
<mask id="m10" maskUnits="userSpaceOnUse" x="19.5" y="770.7" width="88.6" height="66.6"><rect x="19.5" y="770.7" width="88.6" height="66.6" fill="url(#g10)"/></mask>
<linearGradient id="g11" x1="0" y1="0" x2="0" y2="1"><stop offset="0" stop-color="#fff" stop-opacity="0.6"/><stop offset="0.4" stop-color="#fff" stop-opacity="0.65"/><stop offset="0.48" stop-color="#fff" stop-opacity="0.35"/><stop offset="0.56" stop-color="#fff" stop-opacity="0.4"/><stop offset="0.65" stop-color="#fff" stop-opacity="0.85"/><stop offset="1" stop-color="#fff" stop-opacity="0.9"/></linearGradient>
<linearGradient id="t11" x1="0" y1="0" x2="0" y2="1"><stop offset="0" stop-color="#828282"/><stop offset="0.3" stop-color="#8e8e8e"/><stop offset="0.45" stop-color="#9c9c9c"/><stop offset="0.55" stop-color="#a0a0a0"/><stop offset="0.65" stop-color="#a4a4a4"/><stop offset="1" stop-color="#aaaaaa"/></linearGradient>
<mask id="m11" maskUnits="userSpaceOnUse" x="111.2" y="770.7" width="88.6" height="66.6"><rect x="111.2" y="770.7" width="88.6" height="66.6" fill="url(#g11)"/></mask>
<linearGradient id="s11" x1="0" y1="0" x2="0" y2="1"><stop offset="0" stop-color="#fff" stop-opacity="0.2"/><stop offset="1" stop-color="#fff" stop-opacity="0.3"/></linearGradient>
<mask id="n11" maskUnits="userSpaceOnUse" x="111.2" y="770.7" width="88.6" height="66.6"><rect x="111.2" y="770.7" width="88.6" height="66.6" fill="url(#s11)"/></mask>
<linearGradient id="g12" x1="0" y1="0" x2="0" y2="1"><stop offset="0" stop-color="#fff" stop-opacity="0.3"/><stop offset="0.5" stop-color="#fff" stop-opacity="0.35"/><stop offset="1" stop-color="#fff" stop-opacity="0.6"/></linearGradient>
<linearGradient id="t12" x1="0" y1="0" x2="0" y2="1"><stop offset="0" stop-color="#a4a4a4"/><stop offset="0.5" stop-color="#a6a6a6"/><stop offset="1" stop-color="#a8a8a8"/></linearGradient>
<mask id="m12" maskUnits="userSpaceOnUse" x="202.7" y="770.7" width="88.6" height="66.6"><rect x="202.7" y="770.7" width="88.6" height="66.6" fill="url(#g12)"/></mask>
<linearGradient id="s12" x1="0" y1="0" x2="0" y2="1"><stop offset="0" stop-color="#fff" stop-opacity="0.3"/><stop offset="0.5" stop-color="#fff" stop-opacity="0.35"/><stop offset="1" stop-color="#fff" stop-opacity="0.45"/></linearGradient>
<mask id="n12" maskUnits="userSpaceOnUse" x="202.7" y="770.7" width="88.6" height="66.6"><rect x="202.7" y="770.7" width="88.6" height="66.6" fill="url(#s12)"/></mask>
<linearGradient id="g13" x1="0" y1="0" x2="0" y2="1"><stop offset="0" stop-color="#fff" stop-opacity="0.45"/><stop offset="1" stop-color="#fff" stop-opacity="0.6"/></linearGradient>
<linearGradient id="t13" x1="0" y1="0" x2="0" y2="1"><stop offset="0" stop-color="#929292"/><stop offset="0.3" stop-color="#a0a0a0"/><stop offset="1" stop-color="#aaaaaa"/></linearGradient>
<mask id="m13" maskUnits="userSpaceOnUse" x="295.3" y="770.7" width="88.6" height="66.6"><rect x="295.3" y="770.7" width="88.6" height="66.6" fill="url(#g13)"/></mask>
<linearGradient id="g20" x1="0" y1="0" x2="0" y2="1"><stop offset="0" stop-color="#fff" stop-opacity="0.75"/><stop offset="0.34" stop-color="#fff" stop-opacity="0.8"/><stop offset="0.38" stop-color="#fff" stop-opacity="0"/><stop offset="0.755" stop-color="#fff" stop-opacity="0"/><stop offset="0.775" stop-color="#fff" stop-opacity="1"/><stop offset="1" stop-color="#fff" stop-opacity="1"/></linearGradient>
<linearGradient id="t20" x1="0" y1="0" x2="0" y2="1"><stop offset="0" stop-color="#a0a0a0"/><stop offset="0.34" stop-color="#a2a2a2"/><stop offset="0.38" stop-color="#9e9e9e"/><stop offset="0.755" stop-color="#9e9e9e"/><stop offset="0.775" stop-color="#acacac"/><stop offset="1" stop-color="#aeaeae"/></linearGradient>
<mask id="m20" maskUnits="userSpaceOnUse" x="19.5" y="840.2" width="88.6" height="66.6"><rect x="19.5" y="840.2" width="88.6" height="66.6" fill="url(#g20)"/></mask>
<linearGradient id="g21" x1="0" y1="0" x2="0" y2="1"><stop offset="0" stop-color="#fff" stop-opacity="0.6"/><stop offset="0.44" stop-color="#fff" stop-opacity="0.7"/><stop offset="0.5" stop-color="#fff" stop-opacity="0.2"/><stop offset="0.65" stop-color="#fff" stop-opacity="0.25"/><stop offset="0.72" stop-color="#fff" stop-opacity="0.85"/><stop offset="1" stop-color="#fff" stop-opacity="0.85"/></linearGradient>
<linearGradient id="t21" x1="0" y1="0" x2="0" y2="1"><stop offset="0" stop-color="#909090"/><stop offset="0.3" stop-color="#9c9c9c"/><stop offset="0.45" stop-color="#a0a0a0"/><stop offset="0.5" stop-color="#a2a2a2"/><stop offset="0.65" stop-color="#a2a2a2"/><stop offset="0.72" stop-color="#a6a6a6"/><stop offset="1" stop-color="#aaaaaa"/></linearGradient>
<mask id="m21" maskUnits="userSpaceOnUse" x="111.2" y="840.2" width="88.6" height="66.6"><rect x="111.2" y="840.2" width="88.6" height="66.6" fill="url(#g21)"/></mask>
<linearGradient id="g22" x1="0" y1="0" x2="0" y2="1"><stop offset="0" stop-color="#fff" stop-opacity="0.4"/><stop offset="1" stop-color="#fff" stop-opacity="0.5"/></linearGradient>
<linearGradient id="t22" x1="0" y1="0" x2="0" y2="1"><stop offset="0" stop-color="#a2a2a2"/><stop offset="0.5" stop-color="#aaaaaa"/><stop offset="1" stop-color="#aeaeae"/></linearGradient>
<mask id="m22" maskUnits="userSpaceOnUse" x="202.7" y="840.2" width="88.6" height="66.6"><rect x="202.7" y="840.2" width="88.6" height="66.6" fill="url(#g22)"/></mask>
<linearGradient id="g23" x1="0" y1="0" x2="0" y2="1"><stop offset="0" stop-color="#fff" stop-opacity="0.4"/><stop offset="1" stop-color="#fff" stop-opacity="0.55"/></linearGradient>
<linearGradient id="t23" x1="0" y1="0" x2="0" y2="1"><stop offset="0" stop-color="#a2a2a2"/><stop offset="0.5" stop-color="#aaaaaa"/><stop offset="1" stop-color="#aeaeae"/></linearGradient>
<mask id="m23" maskUnits="userSpaceOnUse" x="295.3" y="840.2" width="88.6" height="66.6"><rect x="295.3" y="840.2" width="88.6" height="66.6" fill="url(#g23)"/></mask>
</defs>
<rect x="19.5" y="701.0" width="88.6" height="66.6" fill="url(#t00)"/><rect x="19.5" y="701.0" width="88.6" height="66.6" filter="url(#gW)"/><rect x="19.5" y="701.0" width="88.6" height="66.6" filter="url(#gB)"/>
<g mask="url(#m00)"><rect x="19.5" y="701.0" width="88.6" height="66.6" filter="url(#tW)"/><rect x="19.5" y="701.0" width="88.6" height="66.6" filter="url(#tB)"/><rect x="19.5" y="701.0" width="88.6" height="66.6" filter="url(#sp)" opacity="0.95"/></g>
<rect x="111.2" y="701.0" width="88.6" height="66.6" fill="url(#t01)"/><rect x="111.2" y="701.0" width="88.6" height="66.6" filter="url(#gW)"/><rect x="111.2" y="701.0" width="88.6" height="66.6" filter="url(#gB)"/>
<g mask="url(#m01)"><rect x="111.2" y="701.0" width="88.6" height="66.6" filter="url(#tW)"/><rect x="111.2" y="701.0" width="88.6" height="66.6" filter="url(#tB)"/><rect x="111.2" y="701.0" width="88.6" height="66.6" filter="url(#sp)" opacity="0.95"/></g>
<g mask="url(#n01)"><rect x="111.2" y="701.0" width="88.6" height="66.6" filter="url(#sp2)"/></g>
<rect x="202.7" y="701.0" width="88.6" height="66.6" fill="url(#t02)"/><rect x="202.7" y="701.0" width="88.6" height="66.6" filter="url(#gW)"/><rect x="202.7" y="701.0" width="88.6" height="66.6" filter="url(#gB)"/>
<g mask="url(#m02)"><rect x="202.7" y="701.0" width="88.6" height="66.6" filter="url(#tW)"/><rect x="202.7" y="701.0" width="88.6" height="66.6" filter="url(#tB)"/><rect x="202.7" y="701.0" width="88.6" height="66.6" filter="url(#sp)" opacity="0.95"/></g>
<g mask="url(#n02)"><rect x="202.7" y="701.0" width="88.6" height="66.6" filter="url(#sp2)"/></g>
<rect x="295.3" y="701.0" width="88.6" height="66.6" fill="url(#t03)"/><rect x="295.3" y="701.0" width="88.6" height="66.6" filter="url(#gW)"/><rect x="295.3" y="701.0" width="88.6" height="66.6" filter="url(#gB)"/>
<g mask="url(#m03)"><rect x="295.3" y="701.0" width="88.6" height="66.6" filter="url(#tW)"/><rect x="295.3" y="701.0" width="88.6" height="66.6" filter="url(#tB)"/><rect x="295.3" y="701.0" width="88.6" height="66.6" filter="url(#sp)" opacity="0.95"/></g>
<g mask="url(#n03)"><rect x="295.3" y="701.0" width="88.6" height="66.6" filter="url(#sp2)"/></g>
<rect x="19.5" y="770.7" width="88.6" height="66.6" fill="url(#t10)"/><rect x="19.5" y="770.7" width="88.6" height="66.6" filter="url(#gW)"/><rect x="19.5" y="770.7" width="88.6" height="66.6" filter="url(#gB)"/>
<g mask="url(#m10)"><rect x="19.5" y="770.7" width="88.6" height="66.6" filter="url(#tW)"/><rect x="19.5" y="770.7" width="88.6" height="66.6" filter="url(#tB)"/><rect x="19.5" y="770.7" width="88.6" height="66.6" filter="url(#sp)" opacity="0.95"/></g>
<rect x="111.2" y="770.7" width="88.6" height="66.6" fill="url(#t11)"/><rect x="111.2" y="770.7" width="88.6" height="66.6" filter="url(#gW)"/><rect x="111.2" y="770.7" width="88.6" height="66.6" filter="url(#gB)"/>
<g mask="url(#m11)"><rect x="111.2" y="770.7" width="88.6" height="66.6" filter="url(#tW)"/><rect x="111.2" y="770.7" width="88.6" height="66.6" filter="url(#tB)"/><rect x="111.2" y="770.7" width="88.6" height="66.6" filter="url(#sp)" opacity="0.95"/></g>
<g mask="url(#n11)"><rect x="111.2" y="770.7" width="88.6" height="66.6" filter="url(#sp2)"/></g>
<rect x="202.7" y="770.7" width="88.6" height="66.6" fill="url(#t12)"/><rect x="202.7" y="770.7" width="88.6" height="66.6" filter="url(#gW)"/><rect x="202.7" y="770.7" width="88.6" height="66.6" filter="url(#gB)"/>
<g mask="url(#m12)"><rect x="202.7" y="770.7" width="88.6" height="66.6" filter="url(#tW)"/><rect x="202.7" y="770.7" width="88.6" height="66.6" filter="url(#tB)"/><rect x="202.7" y="770.7" width="88.6" height="66.6" filter="url(#sp)" opacity="0.95"/></g>
<g mask="url(#n12)"><rect x="202.7" y="770.7" width="88.6" height="66.6" filter="url(#sp2)"/></g>
<rect x="295.3" y="770.7" width="88.6" height="66.6" fill="url(#t13)"/><rect x="295.3" y="770.7" width="88.6" height="66.6" filter="url(#gW)"/><rect x="295.3" y="770.7" width="88.6" height="66.6" filter="url(#gB)"/>
<g mask="url(#m13)"><rect x="295.3" y="770.7" width="88.6" height="66.6" filter="url(#tW)"/><rect x="295.3" y="770.7" width="88.6" height="66.6" filter="url(#tB)"/><rect x="295.3" y="770.7" width="88.6" height="66.6" filter="url(#sp)" opacity="0.95"/></g>
<rect x="295.3" y="770.7" width="88.6" height="66.6" fill="url(#vig)" opacity="2.50"/>
<rect x="19.5" y="840.2" width="88.6" height="66.6" fill="url(#t20)"/><rect x="19.5" y="840.2" width="88.6" height="66.6" filter="url(#gW)"/><rect x="19.5" y="840.2" width="88.6" height="66.6" filter="url(#gB)"/>
<g mask="url(#m20)"><rect x="19.5" y="840.2" width="88.6" height="66.6" filter="url(#tW)"/><rect x="19.5" y="840.2" width="88.6" height="66.6" filter="url(#tB)"/><rect x="19.5" y="840.2" width="88.6" height="66.6" filter="url(#sp)" opacity="0.95"/></g>
<rect x="111.2" y="840.2" width="88.6" height="66.6" fill="url(#t21)"/><rect x="111.2" y="840.2" width="88.6" height="66.6" filter="url(#gW)"/><rect x="111.2" y="840.2" width="88.6" height="66.6" filter="url(#gB)"/>
<g mask="url(#m21)"><rect x="111.2" y="840.2" width="88.6" height="66.6" filter="url(#tW)"/><rect x="111.2" y="840.2" width="88.6" height="66.6" filter="url(#tB)"/><rect x="111.2" y="840.2" width="88.6" height="66.6" filter="url(#sp)" opacity="0.95"/></g>
<rect x="111.2" y="840.2" width="88.6" height="66.6" fill="url(#vig)" opacity="1.39"/>
<rect x="202.7" y="840.2" width="88.6" height="66.6" fill="url(#t22)"/><rect x="202.7" y="840.2" width="88.6" height="66.6" filter="url(#gW)"/><rect x="202.7" y="840.2" width="88.6" height="66.6" filter="url(#gB)"/>
<g mask="url(#m22)"><rect x="202.7" y="840.2" width="88.6" height="66.6" filter="url(#tW)"/><rect x="202.7" y="840.2" width="88.6" height="66.6" filter="url(#tB)"/><rect x="202.7" y="840.2" width="88.6" height="66.6" filter="url(#sp)" opacity="0.95"/></g>
<rect x="202.7" y="840.2" width="88.6" height="66.6" fill="url(#vig)" opacity="1.67"/>
<rect x="295.3" y="840.2" width="88.6" height="66.6" fill="url(#t23)"/><rect x="295.3" y="840.2" width="88.6" height="66.6" filter="url(#gW)"/><rect x="295.3" y="840.2" width="88.6" height="66.6" filter="url(#gB)"/>
<g mask="url(#m23)"><rect x="295.3" y="840.2" width="88.6" height="66.6" filter="url(#tW)"/><rect x="295.3" y="840.2" width="88.6" height="66.6" filter="url(#tB)"/><rect x="295.3" y="840.2" width="88.6" height="66.6" filter="url(#sp)" opacity="0.95"/></g>
<rect x="295.3" y="840.2" width="88.6" height="66.6" fill="url(#vig)" opacity="1.94"/>
<text x="523.46" y="705.70" font-size="17.73" fill="#1a1a1a" textLength="131.27" lengthAdjust="spacingAndGlyphs" stroke="#1a1a1a" stroke-width="0.3" stroke-linejoin="round">Migration assay</text>
<line x1="475.35" y1="832.56" x2="723.40" y2="832.56" stroke="#d9d9d9" stroke-width="1.1"/>
<line x1="475.35" y1="781.02" x2="723.40" y2="781.02" stroke="#d9d9d9" stroke-width="1.1"/>
<line x1="475.35" y1="729.48" x2="723.40" y2="729.48" stroke="#d9d9d9" stroke-width="1.1"/>
<line x1="475.35" y1="729.10" x2="475.35" y2="884.90" stroke="#141414" stroke-width="1.6"/>
<line x1="474.55" y1="884.10" x2="723.60" y2="884.10" stroke="#141414" stroke-width="1.6"/>
<text x="450.74" y="889.60" font-size="15.11" fill="#595959" textLength="8.77" lengthAdjust="spacingAndGlyphs" stroke="#595959" stroke-width="0.3" stroke-linejoin="round">0</text>
<text x="441.97" y="838.06" font-size="15.11" fill="#595959" textLength="17.55" lengthAdjust="spacingAndGlyphs" stroke="#595959" stroke-width="0.3" stroke-linejoin="round">40</text>
<text x="441.97" y="786.52" font-size="15.11" fill="#595959" textLength="17.55" lengthAdjust="spacingAndGlyphs" stroke="#595959" stroke-width="0.3" stroke-linejoin="round">80</text>
<text x="433.20" y="734.98" font-size="15.11" fill="#595959" textLength="26.32" lengthAdjust="spacingAndGlyphs" stroke="#595959" stroke-width="0.3" stroke-linejoin="round">120</text>
<g transform="translate(414.36,848.34) rotate(-90)"><text x="-0.77" y="10.01" font-size="14.33" fill="#1a1a1a" textLength="84.57" lengthAdjust="spacingAndGlyphs" stroke="#1a1a1a" stroke-width="0.12" stroke-linejoin="round">Gap percent</text></g>
<text x="502.21" y="911.80" font-size="15.11" fill="#595959" textLength="8.77" lengthAdjust="spacingAndGlyphs" stroke="#595959" stroke-width="0.3" stroke-linejoin="round">0</text>
<text x="564.26" y="911.80" font-size="15.11" fill="#595959" textLength="8.77" lengthAdjust="spacingAndGlyphs" stroke="#595959" stroke-width="0.3" stroke-linejoin="round">4</text>
<text x="626.21" y="911.80" font-size="15.11" fill="#595959" textLength="8.77" lengthAdjust="spacingAndGlyphs" stroke="#595959" stroke-width="0.3" stroke-linejoin="round">8</text>
<text x="683.62" y="911.88" font-size="15.11" fill="#595959" textLength="17.55" lengthAdjust="spacingAndGlyphs" stroke="#595959" stroke-width="0.3" stroke-linejoin="round">12</text>
<text x="568.05" y="936.20" font-size="16.42" fill="#1a1a1a" textLength="63.32" lengthAdjust="spacingAndGlyphs" stroke="#1a1a1a" stroke-width="0.3" stroke-linejoin="round">Time (hr)</text>
<line x1="506.30" y1="877.66" x2="506.30" y2="890.54" stroke="#404040" stroke-width="1.2"/>
<line x1="503.00" y1="877.66" x2="509.60" y2="877.66" stroke="#404040" stroke-width="1.3"/>
<line x1="503.00" y1="890.54" x2="509.60" y2="890.54" stroke="#404040" stroke-width="1.3"/>
<line x1="568.30" y1="836.55" x2="568.30" y2="850.21" stroke="#404040" stroke-width="1.2"/>
<line x1="565.00" y1="836.55" x2="571.60" y2="836.55" stroke="#404040" stroke-width="1.3"/>
<line x1="565.00" y1="850.21" x2="571.60" y2="850.21" stroke="#404040" stroke-width="1.3"/>
<line x1="630.30" y1="800.73" x2="630.30" y2="814.91" stroke="#404040" stroke-width="1.2"/>
<line x1="627.00" y1="800.73" x2="633.60" y2="800.73" stroke="#404040" stroke-width="1.3"/>
<line x1="627.00" y1="814.91" x2="633.60" y2="814.91" stroke="#404040" stroke-width="1.3"/>
<line x1="692.30" y1="757.70" x2="692.30" y2="780.89" stroke="#404040" stroke-width="1.2"/>
<line x1="689.00" y1="757.70" x2="695.60" y2="757.70" stroke="#404040" stroke-width="1.3"/>
<line x1="689.00" y1="780.89" x2="695.60" y2="780.89" stroke="#404040" stroke-width="1.3"/>
<line x1="568.30" y1="831.79" x2="568.30" y2="842.09" stroke="#404040" stroke-width="1.2"/>
<line x1="565.00" y1="831.79" x2="571.60" y2="831.79" stroke="#404040" stroke-width="1.3"/>
<line x1="565.00" y1="842.09" x2="571.60" y2="842.09" stroke="#404040" stroke-width="1.3"/>
<line x1="630.30" y1="802.92" x2="630.30" y2="817.10" stroke="#404040" stroke-width="1.2"/>
<line x1="627.00" y1="802.92" x2="633.60" y2="802.92" stroke="#404040" stroke-width="1.3"/>
<line x1="627.00" y1="817.10" x2="633.60" y2="817.10" stroke="#404040" stroke-width="1.3"/>
<line x1="692.30" y1="771.87" x2="692.30" y2="789.40" stroke="#404040" stroke-width="1.2"/>
<line x1="689.00" y1="771.87" x2="695.60" y2="771.87" stroke="#404040" stroke-width="1.3"/>
<line x1="689.00" y1="789.40" x2="695.60" y2="789.40" stroke="#404040" stroke-width="1.3"/>
<line x1="568.30" y1="864.13" x2="568.30" y2="869.28" stroke="#404040" stroke-width="1.2"/>
<line x1="565.00" y1="864.13" x2="571.60" y2="864.13" stroke="#404040" stroke-width="1.3"/>
<line x1="565.00" y1="869.28" x2="571.60" y2="869.28" stroke="#404040" stroke-width="1.3"/>
<line x1="630.30" y1="839.65" x2="630.30" y2="849.95" stroke="#404040" stroke-width="1.2"/>
<line x1="627.00" y1="839.65" x2="633.60" y2="839.65" stroke="#404040" stroke-width="1.3"/>
<line x1="627.00" y1="849.95" x2="633.60" y2="849.95" stroke="#404040" stroke-width="1.3"/>
<line x1="692.30" y1="814.52" x2="692.30" y2="826.89" stroke="#404040" stroke-width="1.2"/>
<line x1="689.00" y1="814.52" x2="695.60" y2="814.52" stroke="#404040" stroke-width="1.3"/>
<line x1="689.00" y1="826.89" x2="695.60" y2="826.89" stroke="#404040" stroke-width="1.3"/>
<polyline points="506.30,884.10 568.30,866.71 630.30,844.80 692.30,820.71" fill="none" stroke="#fa0000" stroke-width="1.9" stroke-linejoin="round"/>
<circle cx="506.30" cy="884.10" r="4.2" fill="#fa0000"/>
<circle cx="568.30" cy="866.71" r="4.2" fill="#fa0000"/>
<circle cx="630.30" cy="844.80" r="4.2" fill="#fa0000"/>
<circle cx="692.30" cy="820.71" r="4.2" fill="#fa0000"/>
<polyline points="506.30,884.10 568.30,836.94 630.30,810.01 692.30,780.63" fill="none" stroke="#00f000" stroke-width="1.9" stroke-linejoin="round"/>
<circle cx="506.30" cy="884.10" r="4.1" fill="#00f000"/>
<circle cx="568.30" cy="836.94" r="4.1" fill="#00f000"/>
<circle cx="630.30" cy="810.01" r="4.1" fill="#00f000"/>
<circle cx="692.30" cy="780.63" r="4.1" fill="#00f000"/>
<polyline points="506.30,884.10 568.30,843.38 630.30,807.82 692.30,769.29" fill="none" stroke="#a6a6a6" stroke-width="2.6" stroke-linejoin="round"/>
<circle cx="506.30" cy="884.10" r="4.3" fill="#a6a6a6"/>
<circle cx="568.30" cy="843.38" r="4.3" fill="#a6a6a6"/>
<circle cx="630.30" cy="807.82" r="4.3" fill="#a6a6a6"/>
<circle cx="692.30" cy="769.29" r="4.3" fill="#a6a6a6"/>
<line x1="508.00" y1="738.60" x2="535.80" y2="738.60" stroke="#fa0000" stroke-width="1.6"/>
<circle cx="522.3" cy="738.6" r="3.4" fill="#fa0000"/>
<text x="538.29" y="742.40" font-size="10.61" fill="#262626" textLength="11.11" lengthAdjust="spacingAndGlyphs" stroke="#262626" stroke-width="0.3" stroke-linejoin="round">PT</text>
<line x1="508.00" y1="755.30" x2="535.80" y2="755.30" stroke="#00f000" stroke-width="1.6"/>
<circle cx="522.3" cy="755.3" r="3.4" fill="#00f000"/>
<text x="538.26" y="759.10" font-size="10.61" fill="#262626" textLength="17.98" lengthAdjust="spacingAndGlyphs" stroke="#262626" stroke-width="0.3" stroke-linejoin="round">PTC</text>
<line x1="508.00" y1="771.40" x2="535.80" y2="771.40" stroke="#a6a6a6" stroke-width="3.0"/>
<circle cx="522.3" cy="771.4" r="3.4" fill="#a6a6a6"/>
<text x="538.52" y="775.20" font-size="10.61" fill="#262626" textLength="17.79" lengthAdjust="spacingAndGlyphs" stroke="#262626" stroke-width="0.3" stroke-linejoin="round">CTL</text>
<path d="M568.60,875.50V880.40M566.48,876.73L570.72,879.18M566.48,879.18L570.72,876.73" stroke="#1a1a1a" stroke-width="0.85" stroke-linecap="round" fill="none"/>
<path d="M626.48,860.60V864.70M624.70,861.62L628.25,863.67M624.70,863.67L628.25,861.62M635.02,860.60V864.70M633.25,861.62L636.80,863.67M633.25,863.67L636.80,861.62" stroke="#1a1a1a" stroke-width="0.85" stroke-linecap="round" fill="none"/>
<rect x="681" y="830.5" width="24.5" height="8" fill="#fff"/>
<path d="M685.45,832.20V836.70M683.50,833.33L687.40,835.58M683.50,835.58L687.40,833.33M693.00,832.20V836.70M691.05,833.33L694.95,835.58M691.05,835.58L694.95,833.33M700.55,832.20V836.70M698.60,833.33L702.50,835.58M698.60,835.58L702.50,833.33" stroke="#1a1a1a" stroke-width="0.85" stroke-linecap="round" fill="none"/>
</svg></body></html>
